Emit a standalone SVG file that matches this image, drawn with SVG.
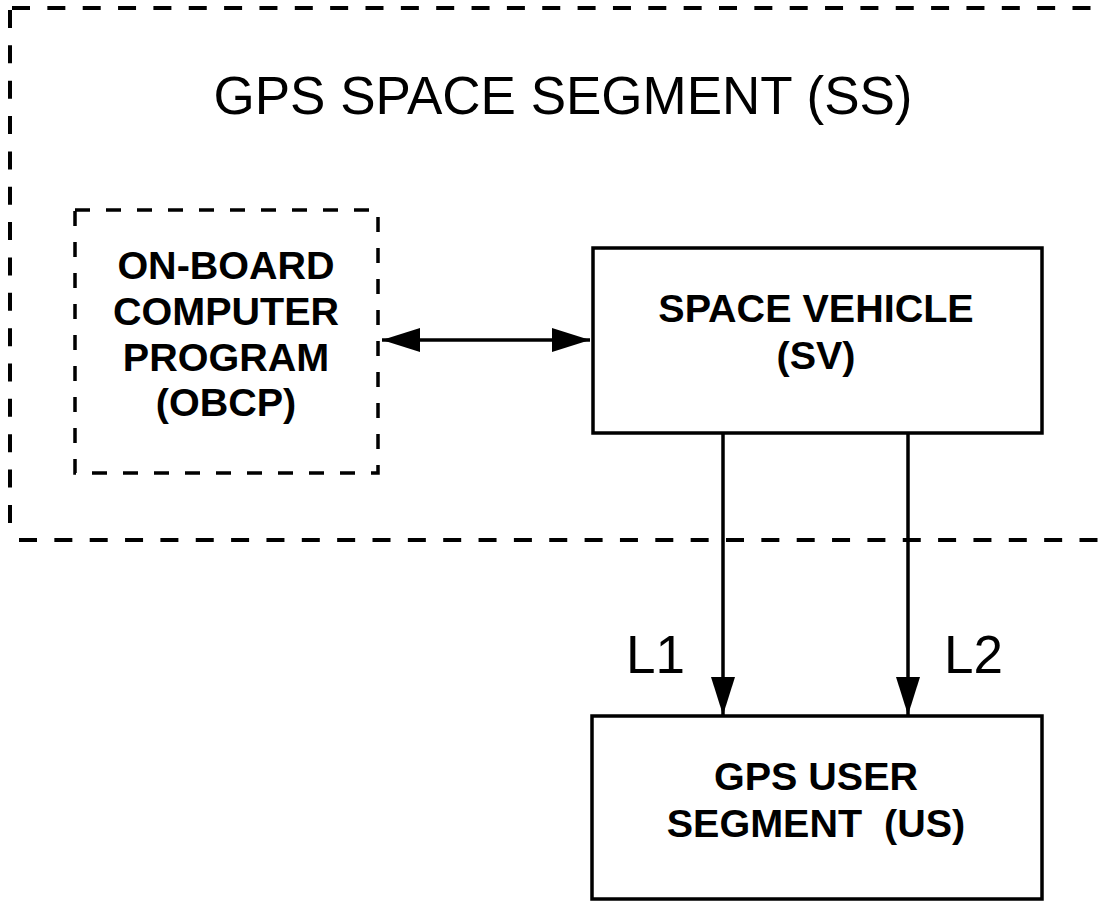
<svg xmlns="http://www.w3.org/2000/svg" width="1102" height="901" viewBox="0 0 1102 901">
<defs>
<style>
.bg{fill:#fff}
.outer{fill:none;stroke:#000;stroke-width:4;stroke-dasharray:18 17.35}
.dbox{fill:#fff;stroke:#000;stroke-width:3.5;stroke-dasharray:15 16}
.box{fill:#fff;stroke:#000;stroke-width:3.5}
.conn{fill:none;stroke:#000;stroke-width:3.5}
.t{font-family:"Liberation Sans",Arial,sans-serif;fill:#000;white-space:pre}
.big{font-size:53px}
.lbl{font-size:39.5px;font-weight:bold;text-anchor:middle}
</style>
<marker id="ah" viewBox="0 0 38 24" refX="38" refY="12" markerWidth="38" markerHeight="24" markerUnits="userSpaceOnUse" orient="auto-start-reverse">
<path d="M0 0 L38 12 L0 24 Z" fill="#000"/>
</marker>
</defs>
<rect class="bg" x="0" y="0" width="1102" height="901"/>
<g id="space-segment">
<path class="outer" d="M12 8 H1110"/>
<path class="outer" d="M10 10 V528"/>
<path class="outer" d="M19 540 H1110"/>
<text class="t big" x="563" y="114" text-anchor="middle">GPS SPACE SEGMENT (SS)</text>
</g>
<g id="obcp">
<rect class="dbox" x="75" y="210" width="303" height="263"/>
<text class="t lbl" x="226" y="279">ON-BOARD</text>
<text class="t lbl" x="226" y="325">COMPUTER</text>
<text class="t lbl" x="226" y="371">PROGRAM</text>
<text class="t lbl" x="226" y="416">(OBCP)</text>
</g>
<g id="sv">
<rect class="box" x="593" y="248" width="449" height="185"/>
<text class="t lbl" x="816" y="322">SPACE VEHICLE</text>
<text class="t lbl" x="816" y="369">(SV)</text>
</g>
<g id="us">
<rect class="box" x="592" y="716" width="450" height="183"/>
<text class="t lbl" x="816" y="790">GPS USER</text>
<text class="t lbl" x="816" y="837">SEGMENT  (US)</text>
</g>
<g id="connectors">
<path class="conn" d="M382 340 H590" marker-start="url(#ah)" marker-end="url(#ah)"/>
<path class="conn" d="M723 433 V715" marker-end="url(#ah)"/>
<path class="conn" d="M908 433 V715" marker-end="url(#ah)"/>
<text class="t big" x="626" y="673">L1</text>
<text class="t big" x="944" y="673">L2</text>
</g>
</svg>
